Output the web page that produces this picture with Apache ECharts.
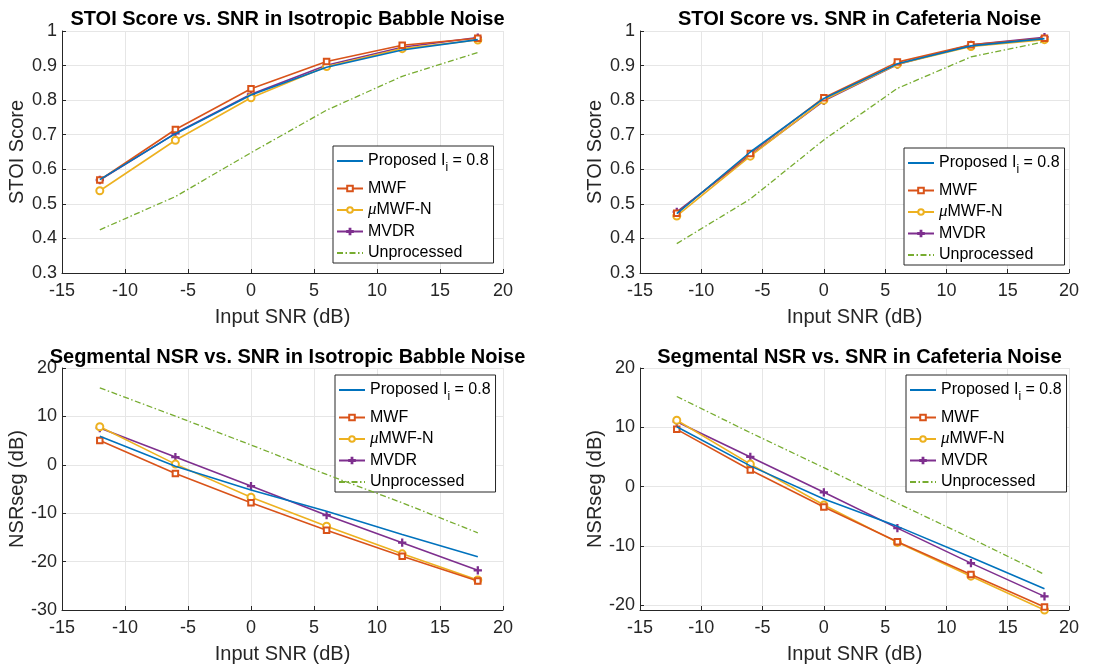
<!DOCTYPE html>
<html><head><meta charset="utf-8">
<script src="https://cdn.jsdelivr.net/npm/echarts@6/dist/echarts.min.js"></script>
<style>html,body{margin:0;padding:0;background:#fff}#c{width:1097px;height:666px}</style>
</head><body><div id="c"></div>
<script>
const snr = [-12, -6, 0, 6, 12, 18];
const seriesNames = ['Proposed I_i = 0.8', 'MWF', 'μMWF-N', 'MVDR', 'Unprocessed'];
const xTicks = [-15, -10, -5, 0, 5, 10, 15, 20];
const nsrCafeTicks = [-20, -10, 0, 10, 20];

const stoiBabbleProposed = [0.570, 0.703, 0.815, 0.895, 0.945, 0.975];
const stoiBabbleMWF      = [0.569, 0.715, 0.833, 0.912, 0.959, 0.979];
const stoiBabbleMuMWF    = [0.538, 0.684, 0.807, 0.897, 0.949, 0.974];
const stoiBabbleMVDR     = [0.569, 0.704, 0.817, 0.901, 0.953, 0.981];
const stoiBabbleUnproc   = [0.425, 0.521, 0.648, 0.771, 0.869, 0.938];

const stoiCafeProposed = [0.472, 0.650, 0.805, 0.905, 0.957, 0.978];
const stoiCafeMWF      = [0.473, 0.646, 0.807, 0.910, 0.960, 0.979];
const stoiCafeMuMWF    = [0.465, 0.638, 0.800, 0.904, 0.955, 0.975];
const stoiCafeMVDR     = [0.477, 0.640, 0.798, 0.903, 0.960, 0.982];
const stoiCafeUnproc   = [0.385, 0.514, 0.685, 0.834, 0.925, 0.969];

const nsrBabbleProposed = [5.9, -0.3, -5.2, -9.6, -14.4, -19.0];
const nsrBabbleMWF      = [5.0, -1.8, -7.85, -13.5, -18.9, -24.0];
const nsrBabbleMuMWF    = [7.85, 0.14, -6.7, -12.7, -18.4, -23.8];
const nsrBabbleMVDR     = [7.6, 1.6, -4.4, -10.4, -16.1, -21.8];
const nsrBabbleUnproc   = [15.9, 10.05, 4.1, -2.0, -7.85, -14.05];

const nsrCafeProposed = [10.1, 3.5, -2.1, -6.7, -11.9, -17.2];
const nsrCafeMWF      = [9.66, 2.8, -3.43, -9.3, -14.8, -20.3];
const nsrCafeMuMWF    = [11.2, 3.8, -3.1, -9.4, -15.1, -20.8];
const nsrCafeMVDR     = [10.95, 5.0, -0.96, -7.0, -12.9, -18.5];
const nsrCafeUnproc   = [15.2, 9.1, 3.2, -2.8, -8.7, -14.8];

const titles = [
  'STOI Score vs. SNR in Isotropic Babble Noise',
  'STOI Score vs. SNR in Cafeteria Noise',
  'Segmental NSR vs. SNR in Isotropic Babble Noise',
  'Segmental NSR vs. SNR in Cafeteria Noise'
];
const yNames = ['STOI Score', 'STOI Score', 'NSRseg (dB)', 'NSRseg (dB)'];
const yRanges = [[0.3, 1, 0.1], [0.3, 1, 0.1], [-30, 20, 10], [-20.8, 20, null]];
const panels = [
  [stoiBabbleProposed, stoiBabbleMWF, stoiBabbleMuMWF, stoiBabbleMVDR, stoiBabbleUnproc],
  [stoiCafeProposed, stoiCafeMWF, stoiCafeMuMWF, stoiCafeMVDR, stoiCafeUnproc],
  [nsrBabbleProposed, nsrBabbleMWF, nsrBabbleMuMWF, nsrBabbleMVDR, nsrBabbleUnproc],
  [nsrCafeProposed, nsrCafeMWF, nsrCafeMuMWF, nsrCafeMVDR, nsrCafeUnproc]
];

const FONT = '"Liberation Sans", Arial, Helvetica, sans-serif';
const AX = '#262626';
const GRIDC = '#e6e6e6';
const colors = ['#0072BD', '#D95319', '#EDB120', '#7E2F8E', '#77AC30'];
const plusPath = 'path://M-0.14,-1 L0.14,-1 L0.14,-0.14 L1,-0.14 L1,0.14 L0.14,0.14 L0.14,1 L-0.14,1 L-0.14,0.14 L-1,0.14 L-1,-0.14 L-0.14,-0.14 Z';
const symbols = ['circle', 'emptyRect', 'emptyCircle', plusPath, 'circle'];
const showSym = [false, true, true, true, false];
const symSizes = [6, 5.5, 7, 7, 6];

const grids = [
  {left: 62, top: 31, width: 441, height: 242},
  {left: 640, top: 31, width: 429, height: 242},
  {left: 62, top: 368, width: 441, height: 242},
  {left: 640, top: 368, width: 429, height: 242}
];
const legendPos = [[333, 146], [904, 148], [335, 375], [906, 375]];
const titlePos = [[282.5, 4], [854.5, 4], [282.5, 342], [854.5, 342]];

const hiddenMarker = {color: 'rgba(0,0,0,0)', borderColor: 'rgba(0,0,0,0)', borderWidth: 0};
const legendData = seriesNames.map((n, i) => {
  const d = {name: n};
  if (!showSym[i]) d.itemStyle = hiddenMarker;
  if (i === 0) d.textStyle = {lineHeight: 30};
  return d;
});

const option = {
  animation: false,
  backgroundColor: '#fff',
  title: titles.map((t, i) => ({
    text: t, left: titlePos[i][0], top: titlePos[i][1], textAlign: 'center',
    textStyle: {fontFamily: FONT, fontSize: 20, fontWeight: 'bold', color: '#000'}
  })),
  grid: grids,
  xAxis: grids.map((g, i) => ({
    type: 'value', gridIndex: i, min: xTicks[0], max: xTicks[xTicks.length - 1], interval: 5,
    name: 'Input SNR (dB)', nameLocation: 'middle', nameGap: 34,
    nameTextStyle: {fontFamily: FONT, fontSize: 20, color: AX},
    axisLine: {show: true, onZero: false, lineStyle: {color: AX, width: 1}},
    axisTick: {show: true, inside: true, length: 4, lineStyle: {color: AX}},
    axisLabel: {fontFamily: FONT, fontSize: 18, color: AX, margin: 9},
    splitLine: {show: true, lineStyle: {color: GRIDC, width: 1}}
  })),
  yAxis: grids.map((g, i) => {
    const ax = {
      type: 'value', gridIndex: i, min: yRanges[i][0], max: yRanges[i][1],
      name: yNames[i], nameLocation: 'middle', nameGap: 35,
      nameTextStyle: {fontFamily: FONT, fontSize: 20, color: AX},
      axisLine: {show: true, onZero: false, lineStyle: {color: AX, width: 1}},
      axisTick: {show: true, inside: true, length: 4, lineStyle: {color: AX}},
      axisLabel: {fontFamily: FONT, fontSize: 18, color: AX, margin: 5},
      splitLine: {show: true, lineStyle: {color: GRIDC, width: 1}}
    };
    if (yRanges[i][2] !== null) {
      ax.interval = yRanges[i][2];
    } else {
      ax.axisTick.customValues = nsrCafeTicks;
      ax.axisLabel.customValues = nsrCafeTicks;
    }
    return ax;
  }),
  legend: legendPos.map(p => ({
    data: legendData, orient: 'vertical', left: p[0], top: p[1],
    selectedMode: false, itemWidth: 26, itemHeight: 7, itemGap: 3.5,
    padding: [0, 5, 1, 3],
    backgroundColor: '#fff', borderColor: AX, borderWidth: 1, borderRadius: 0,
    formatter: name => name === seriesNames[0] ? 'Proposed I{sub|i} = 0.8' : (name === seriesNames[2] ? '{mu|μ}MWF-N' : name),
    textStyle: {fontFamily: FONT, fontSize: 16, color: '#000', lineHeight: 18,
      rich: {
        sub: {fontFamily: FONT, fontSize: 12, lineHeight: 12, padding: [0, 0, 2, 0], verticalAlign: 'bottom', color: '#000'},
        mu: {fontFamily: '"Liberation Serif", "DejaVu Serif", serif', fontStyle: 'italic', fontSize: 17, color: '#000'}
      }}
  })),
  series: []
};

panels.forEach((arrs, gi) => {
  arrs.forEach((vals, si) => {
    option.series.push({
      name: seriesNames[si], type: 'line', xAxisIndex: gi, yAxisIndex: gi,
      data: snr.map((x, k) => [x, vals[k]]),
      symbol: symbols[si], symbolSize: symSizes[si], showSymbol: showSym[si],
      clip: false,
      color: colors[si],
      itemStyle: {color: colors[si], borderColor: colors[si], borderWidth: 1.3},
      lineStyle: {color: colors[si], width: si === 4 ? 1.3 : 1.6, type: si === 4 ? [6, 2.5, 1.5, 2.5] : 'solid'},
      z: 10 - si
    });
  });
});

const chart = echarts.init(document.getElementById('c'), null, {renderer: 'canvas'});
chart.setOption(option);
</script>
</body></html>
